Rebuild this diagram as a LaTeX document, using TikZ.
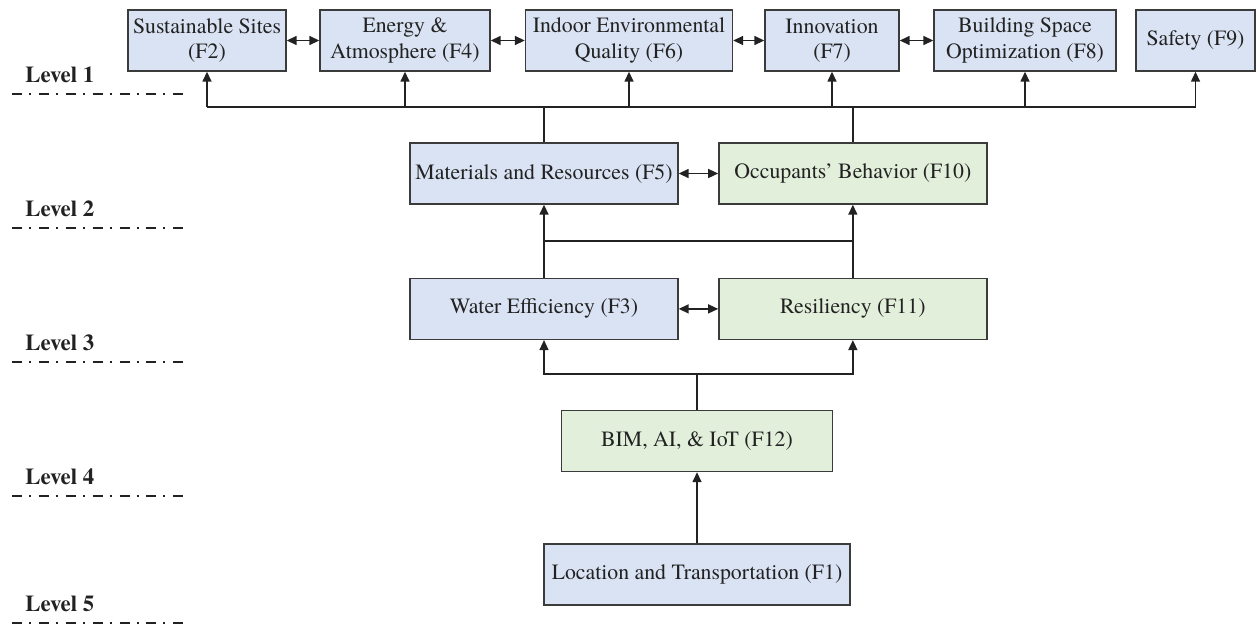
\documentclass[tikz,border=0pt]{standalone}
\usepackage{fontspec}
\setmainfont{texgyretermes}[Extension=.otf, UprightFont=*-regular, BoldFont=*-bold, ItalicFont=*-italic, BoldItalicFont=*-bolditalic]
\usepackage{xcolor}
\usetikzlibrary{arrows.meta,positioning,calc}
\definecolor{boxblue}{HTML}{DAE3F3}
\definecolor{boxgreen}{HTML}{E2EFDA}
\definecolor{edge}{HTML}{3B3B3B}
\definecolor{ink}{HTML}{222222}

\begin{document}
\begin{tikzpicture}[x=0.02cm, y=-0.02cm,
  box/.style={draw=edge, line width=0.8pt, minimum height=1.22cm, inner sep=1pt, align=center, text=ink, font=\fontsize{12.4}{14.5}\selectfont},
  fb/.style={box, fill=boxblue},
  fg/.style={box, fill=boxgreen},
  lvl/.style={font=\fontsize{13}{15}\selectfont\bfseries, anchor=west, inner sep=0pt, text=ink},
  lvlline/.style={line width=1.1pt, draw=ink, dash pattern=on 5.7pt off 4pt on 1.1pt off 4.5pt},
  wire/.style={line width=0.85pt, draw=ink},
  arr/.style={wire, -{Triangle[length=2mm,width=1.8mm]}},
  darr/.style={wire, {Triangle[length=2mm,width=1.8mm]}-{Triangle[length=2mm,width=1.8mm]}}
]
\useasboundingbox (0,0) rectangle (1256,626);

% level 1
\node[fb, minimum width=3.16cm] (f2) at (207,40.5) {Sustainable Sites\\(F2)};
\node[fb, minimum width=3.4cm] (f4) at (405,40.5) {Energy \&\\Atmosphere (F4)};
\node[fb, minimum width=4.14cm] (f6) at (629,40.5) {Indoor Environmental\\Quality (F6)};
\node[fb, minimum width=2.68cm] (f7) at (832,40.5) {Innovation\\(F7)};
\node[fb, minimum width=3.64cm] (f8) at (1025,40.5) {Building Space\\Optimization (F8)};
\node[fb, minimum width=2.38cm] (f9) at (1195.5,40.5) {Safety (F9)};

% levels 2 to 5
\node[fb, minimum width=5.36cm] (f5) at (544,173.5) {Materials and Resources (F5)};
\node[fg, minimum width=5.36cm, right=0.79cm of f5] (f10) {Occupants' Behavior (F10)};
\node[fb, minimum width=5.36cm, below=1.46cm of f5] (f3) {Water Efficiency (F3)};
\node[fg, minimum width=5.36cm, right=0.79cm of f3] (f11) {Resiliency (F11)};
\node[fg, minimum width=5.42cm] (f12) at (697,441) {BIM, AI, \& IoT (F12)};
\node[fb, minimum width=6.12cm] (f1) at (697,574.5) {Location and Transportation (F1)};

\coordinate (bus1) at (0,107);
\coordinate (bus2) at (0,241);
\coordinate (bus3) at (0,374);

\foreach \a/\b in {f2/f4,f4/f6,f6/f7,f7/f8,f5/f10,f3/f11}
  \draw[darr] (\a) -- (\b);

\draw[wire] (f2.south |- bus1) -- (f9.south |- bus1);
\foreach \n in {f2,f4,f6,f7,f8,f9}
  \draw[arr] (\n.south |- bus1) -- (\n.south);
\draw[wire] (f5.north) -- (f5.north |- bus1);
\draw[wire] (f10.north) -- (f10.north |- bus1);

\draw[wire] (f3.north) |- (f11.north |- bus2) -- (f11.north);
\draw[arr] (f3.north |- bus2) -- (f5.south);
\draw[arr] (f11.north |- bus2) -- (f10.south);

\draw[wire] (f12.north) -- (f12.north |- bus3);
\draw[arr] (f12.north |- bus3) -| (f3.south);
\draw[arr] (f12.north |- bus3) -| (f11.south);
\draw[arr] (f1) -- (f12);

\foreach \i/\y in {1/94,2/228,3/362,4/496,5/623} {
  \node[lvl] (lv\i) at (25,\y-19) {Level \i};
  \draw[lvlline] (12,\y) -- (183,\y);
}

\end{tikzpicture}
\end{document}
